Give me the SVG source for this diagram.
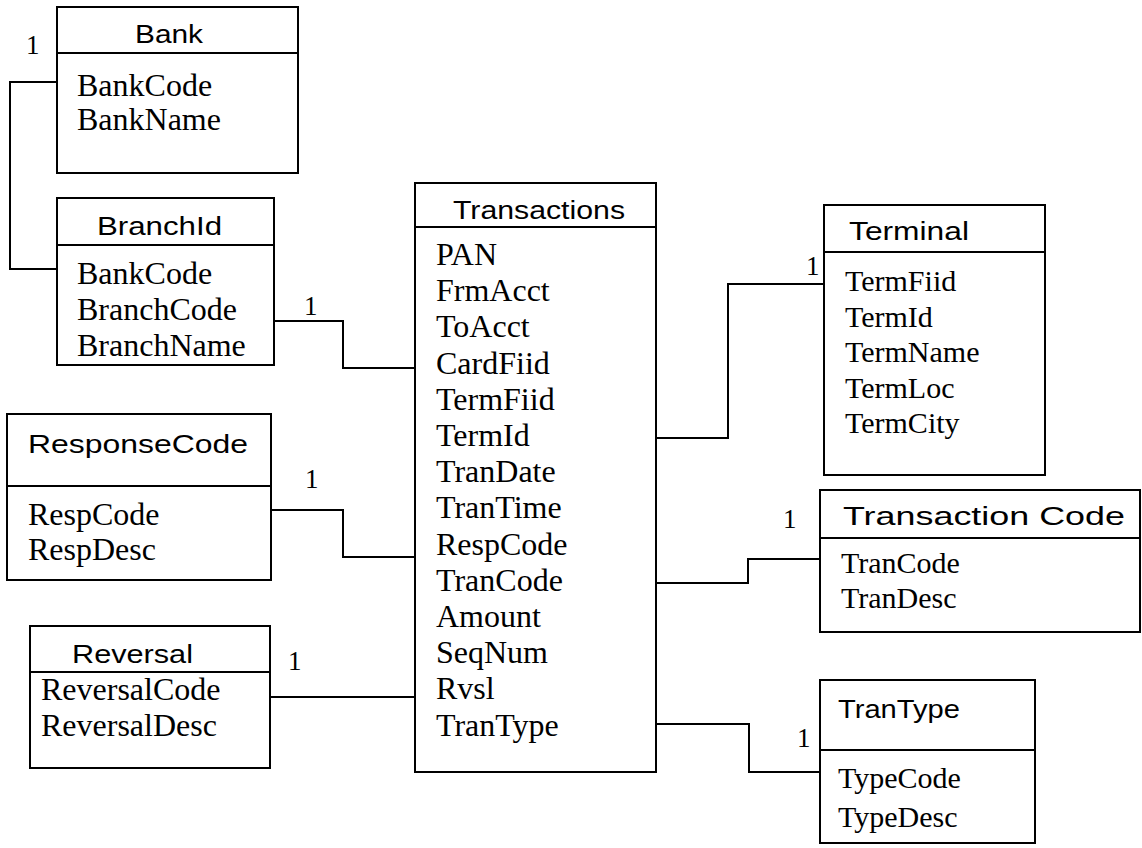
<svg xmlns="http://www.w3.org/2000/svg" width="1142" height="848" viewBox="0 0 1142 848">
  <style>
    .box { fill: #fff; stroke: #000; stroke-width: 2; }
    .div { stroke: #000; stroke-width: 2; }
    .ttl { font-family: "Liberation Sans", Arial, sans-serif; font-size: 25px; fill: #000; }
    .fld { font-family: "Liberation Serif", "Times New Roman", serif; font-size: 32px; fill: #000; }
    .fld-s { font-family: "Liberation Serif", "Times New Roman", serif; font-size: 30px; fill: #000; }
    .card { font-family: "Liberation Serif", "Times New Roman", serif; font-size: 27px; fill: #000; }
    .wire { fill: none; stroke: #000; stroke-width: 2; }
  </style>

  <!-- relationship lines with their cardinality labels -->
  <g id="connectors">
    <path class="wire" d="M57,82 H10 V269 H57"/>
    <path class="wire" d="M274,321 H343 V368 H415"/>
    <path class="wire" d="M271,510 H343 V557 H415"/>
    <path class="wire" d="M271,697 H415"/>
    <path class="wire" d="M656,438 H728 V284 H824"/>
    <path class="wire" d="M656,583 H748 V559 H820"/>
    <path class="wire" d="M656,724 H749 V772 H820"/>
    <text class="card" x="26" y="54">1</text>
    <text class="card" x="304" y="315">1</text>
    <text class="card" x="305" y="488">1</text>
    <text class="card" x="288" y="670">1</text>
    <text class="card" x="806" y="275">1</text>
    <text class="card" x="783" y="528">1</text>
    <text class="card" x="797" y="747">1</text>
  </g>

  <g id="bank">
    <rect class="box" x="57" y="7" width="241" height="166"/>
    <line class="div" x1="57" y1="53" x2="298" y2="53"/>
    <text class="ttl" x="135" y="43" textLength="68" lengthAdjust="spacingAndGlyphs">Bank</text>
    <text class="fld" x="77" y="96">BankCode</text>
    <text class="fld" x="77" y="130">BankName</text>
  </g>

  <g id="branchid">
    <rect class="box" x="57" y="198" width="217" height="167"/>
    <line class="div" x1="57" y1="245" x2="274" y2="245"/>
    <text class="ttl" x="97" y="235" textLength="125" lengthAdjust="spacingAndGlyphs">BranchId</text>
    <text class="fld" x="77" y="284">BankCode</text>
    <text class="fld" x="77" y="320">BranchCode</text>
    <text class="fld" x="77" y="356">BranchName</text>
  </g>

  <g id="responsecode">
    <rect class="box" x="7" y="414" width="264" height="166"/>
    <line class="div" x1="7" y1="486" x2="271" y2="486"/>
    <text class="ttl" x="28" y="453" font-size="28" textLength="220" lengthAdjust="spacingAndGlyphs">ResponseCode</text>
    <text class="fld" x="28" y="525">RespCode</text>
    <text class="fld" x="28" y="560">RespDesc</text>
  </g>

  <g id="reversal">
    <rect class="box" x="30" y="626" width="240" height="142"/>
    <line class="div" x1="30" y1="672" x2="270" y2="672"/>
    <text class="ttl" x="72" y="663" textLength="121" lengthAdjust="spacingAndGlyphs">Reversal</text>
    <text class="fld" x="41" y="700" font-size="33">ReversalCode</text>
    <text class="fld" x="41" y="736" font-size="33">ReversalDesc</text>
  </g>

  <g id="transactions">
    <rect class="box" x="415" y="183" width="241" height="589"/>
    <line class="div" x1="415" y1="227" x2="656" y2="227"/>
    <text class="ttl" x="453" y="219" textLength="172" lengthAdjust="spacingAndGlyphs">Transactions</text>
    <text class="fld" x="436" y="265">PAN</text>
    <text class="fld" x="436" y="301">FrmAcct</text>
    <text class="fld" x="436" y="337">ToAcct</text>
    <text class="fld" x="436" y="374">CardFiid</text>
    <text class="fld" x="436" y="410">TermFiid</text>
    <text class="fld" x="436" y="446">TermId</text>
    <text class="fld" x="436" y="482">TranDate</text>
    <text class="fld" x="436" y="518">TranTime</text>
    <text class="fld" x="436" y="555">RespCode</text>
    <text class="fld" x="436" y="591">TranCode</text>
    <text class="fld" x="436" y="627">Amount</text>
    <text class="fld" x="436" y="663">SeqNum</text>
    <text class="fld" x="436" y="699">Rvsl</text>
    <text class="fld" x="436" y="736">TranType</text>
  </g>

  <g id="terminal">
    <rect class="box" x="824" y="205" width="221" height="270"/>
    <line class="div" x1="824" y1="252" x2="1045" y2="252"/>
    <text class="ttl" x="849" y="240" textLength="120" lengthAdjust="spacingAndGlyphs">Terminal</text>
    <text class="fld-s" x="845" y="291">TermFiid</text>
    <text class="fld-s" x="845" y="327">TermId</text>
    <text class="fld-s" x="845" y="362">TermName</text>
    <text class="fld-s" x="845" y="398">TermLoc</text>
    <text class="fld-s" x="845" y="433">TermCity</text>
  </g>

  <g id="transactioncode">
    <rect class="box" x="820" y="490" width="320" height="142"/>
    <line class="div" x1="820" y1="538" x2="1140" y2="538"/>
    <text class="ttl" x="843" y="525" textLength="282" lengthAdjust="spacingAndGlyphs">Transaction Code</text>
    <text class="fld-s" x="841" y="573">TranCode</text>
    <text class="fld-s" x="841" y="608">TranDesc</text>
  </g>

  <g id="trantype">
    <rect class="box" x="820" y="680" width="215" height="163"/>
    <line class="div" x1="820" y1="750" x2="1035" y2="750"/>
    <text class="ttl" x="838" y="718" textLength="122" lengthAdjust="spacingAndGlyphs">TranType</text>
    <text class="fld-s" x="838" y="788">TypeCode</text>
    <text class="fld-s" x="838" y="827">TypeDesc</text>
  </g>
</svg>
